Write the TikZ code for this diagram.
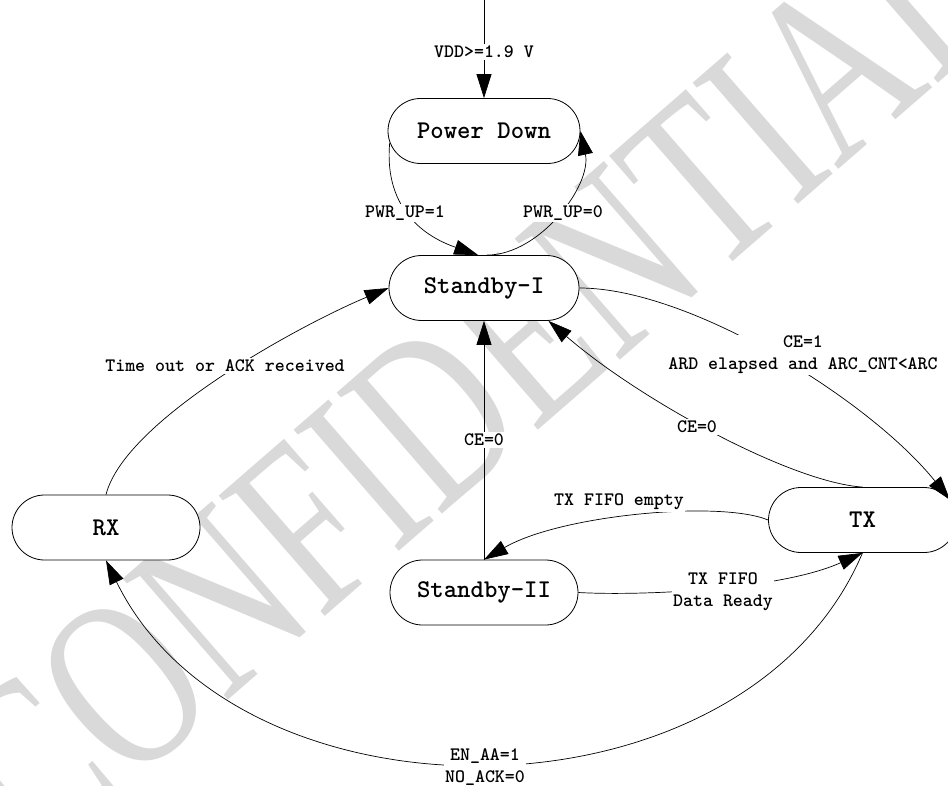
\documentclass[tikz,border=0pt]{standalone}
\usepackage{fontspec}
\newfontfamily\wmfont{Liberation Serif}
\usetikzlibrary{shapes.misc,arrows.meta}
\begin{document}
\begin{tikzpicture}[x=1pt,y=-1pt,
  state/.style={draw, line width=0.8pt, fill=white, rounded rectangle, minimum height=65pt, inner sep=0pt, font=\ttfamily\bfseries\fontsize{25.5}{28}\selectfont},
  lbl/.style={fill=white, inner sep=1.5pt, align=center, font=\ttfamily\bfseries\fontsize{19}{22}\selectfont},
  edge/.style={line width=0.7pt},
  arr/.style={edge, -{Triangle[length=24pt,width=15pt]}},
]
\useasboundingbox (0,0) rectangle (948,786);
% watermark
\node[text=black!15, rotate=41, xscale=0.72, inner sep=0pt, font=\wmfont\fontsize{245}{245}\selectfont] (wm) at (475,380) {CONFIDENTIAL};
% states
\node[state, minimum width=192pt] (pd) at (484,131) {Power Down};
\node[state, minimum width=190pt] (s1) at (484,288) {Standby-I};
\node[state, minimum width=188pt] (s2) at (484,592.5) {Standby-II};
\node[state, minimum width=188pt] (rx) at (106,527.5) {RX};
\node[state, minimum width=188pt] (tx) at (862.5,520) {TX};
\coordinate (top) at (484,0);
% connectors
\draw[arr] (top) -- (pd.north);
\draw[arr] (pd.187) .. controls (384,205) and (420,235) .. (s1.100);
\draw[arr] (s1.85) .. controls (540,255) and (592,185) .. (pd.east);
\draw[arr] (rx.north) .. controls (125,420) and (300,325) .. (s1.west);
\draw[arr] (s1.east) .. controls (690,288) and (870,400) .. (tx.13);
\draw[arr] (tx.north) .. controls (790,482) and (640,400) .. (s1.333);
\draw[arr] (s2.north) -- (s1.south);
\draw[arr] (tx.west) .. controls (720,500) and (560,515) .. (s2.north);
\draw[arr] (s2.east) .. controls (640,596) and (780,590) .. (tx.south);
\draw[arr] (tx.south) .. controls (745,830) and (240,834) .. (rx.south);
% labels
\node[lbl] (lvdd) at (484,52) {VDD>=1.9 V};
\node[lbl] (lpu1) at (405,213) {PWR\_UP=1};
\node[lbl] (lpu0) at (563,213) {PWR\_UP=0};
\node[lbl] (lrx) at (225,366) {Time out or ACK received};
\node[lbl] (lce1) at (803,355) {CE=1\\ARD elapsed and ARC\_CNT<ARC};
\node[lbl] (lce0a) at (697,427) {CE=0};
\node[lbl] (lce0b) at (484,440) {CE=0};
\node[lbl] (lemp) at (619,502) {TX FIFO empty};
\node[lbl] (lrdy) at (723,592) {TX FIFO\\Data Ready};
\node[lbl] (lack) at (485,767) {EN\_AA=1\\NO\_ACK=0};
\end{tikzpicture}
\end{document}
